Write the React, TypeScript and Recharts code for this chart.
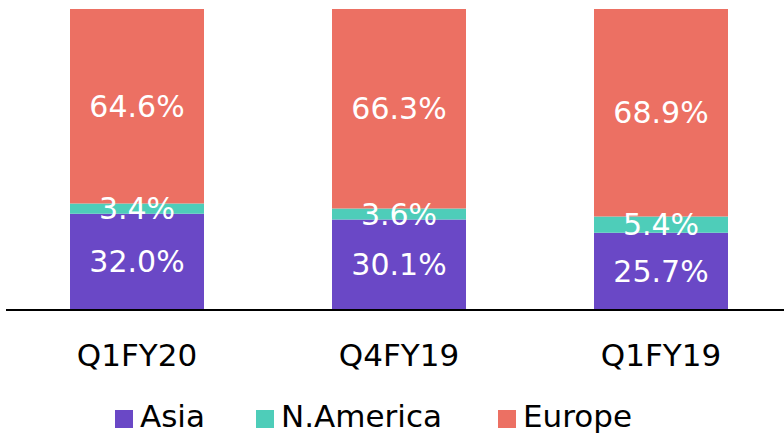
import { Bar, BarChart, LabelList, Legend, XAxis, YAxis } from "recharts";

const QUARTERS = ["Q1FY20", "Q4FY19", "Q1FY19"];
const ASIA = [32.0, 30.1, 25.7];
const N_AMERICA = [3.4, 3.6, 5.4];
const EUROPE = [64.6, 66.3, 68.9];

const SERIES = [
  { key: "Asia", color: "#6a48c6" },
  { key: "N.America", color: "#4ecdb9" },
  { key: "Europe", color: "#ec7063" },
];

// legend item offsets inside the legend wrapper (which starts at the left margin)
const LEGEND_X = [109, 250, 492];

const data = QUARTERS.map((q, i) => ({
  name: q,
  Asia: ASIA[i],
  "N.America": N_AMERICA[i],
  Europe: EUROPE[i],
}));

const FONT = "'DejaVu Sans', Verdana, sans-serif";

const pct = (v: any) => `${Number(v).toFixed(1)}%`;

const App = () => {
  return (
    <div style={{ position: "absolute", left: 0, top: 0 }}>
      <BarChart
        width={800}
        height={436}
        data={data}
        margin={{ top: 9, right: 8, left: 6, bottom: 0 }}
        barSize={134}
        style={{ fontFamily: FONT }}
      >
        <YAxis hide domain={[0, 100]} />
        <XAxis
          dataKey="name"
          height={56}
          tickLine={false}
          axisLine={{ stroke: "#000", strokeWidth: 2 }}
          tickMargin={28}
          tick={{ fill: "#000", fontSize: 31, fontFamily: FONT }}
        />
        {SERIES.map((s) => (
          <Bar
            key={s.key}
            dataKey={s.key}
            stackId="a"
            fill={s.color}
            isAnimationActive={false}
          >
            <LabelList
              dataKey={s.key}
              position="center"
              fill="#fff"
              fontSize={30}
              fontFamily={FONT}
              formatter={pct}
            />
          </Bar>
        ))}
        <Legend
          verticalAlign="bottom"
          height={70}
          content={() => (
            <div
              style={{
                height: 70,
                paddingTop: 33,
                boxSizing: "border-box",
                fontFamily: FONT,
                fontSize: 31,
                lineHeight: "35px",
                color: "#000",
              }}
            >
              {SERIES.map((s, i) => (
                <div
                  key={s.key}
                  style={{
                    display: "flex",
                    alignItems: "center",
                    position: "absolute",
                    left: LEGEND_X[i],
                  }}
                >
                  <span
                    style={{
                      width: 18,
                      height: 18,
                      background: s.color,
                      marginRight: 7,
                      marginTop: 4,
                      display: "inline-block",
                    }}
                  />
                  <span>{s.key}</span>
                </div>
              ))}
            </div>
          )}
        />
      </BarChart>
    </div>
  );
};

export default App;
